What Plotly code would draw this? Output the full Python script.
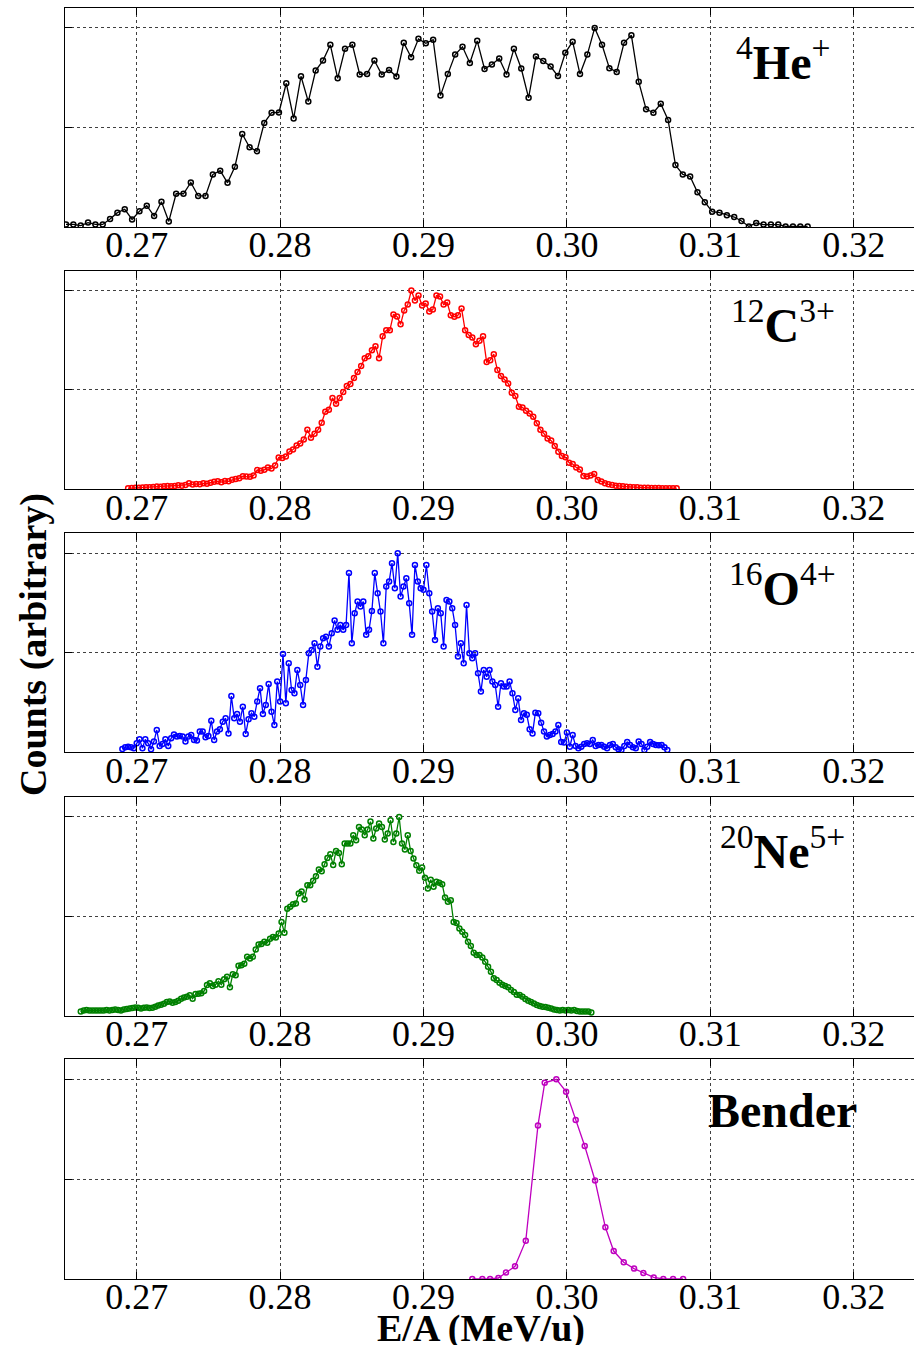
import plotly.graph_objects as go

# ---------------- data (normalised counts vs E/A in MeV/u) ----------------
he_start, he_step = 0.26507, 0.000512
he_counts = [0.013, 0.013, 0.007, 0.022, 0.013, 0.013, 0.04, 0.072, 0.089, 0.038,
             0.079, 0.107, 0.055, 0.127, 0.028, 0.167, 0.167, 0.224, 0.156, 0.156,
             0.264, 0.283, 0.222, 0.303, 0.467, 0.4, 0.38, 0.523, 0.574, 0.575,
             0.722, 0.545, 0.757, 0.63, 0.786, 0.836, 0.915, 0.747, 0.895, 0.916,
             0.766, 0.769, 0.836, 0.766, 0.789, 0.756, 0.925, 0.853, 0.945, 0.923,
             0.941, 0.66, 0.768, 0.866, 0.905, 0.824, 0.935, 0.794, 0.816, 0.846,
             0.766, 0.895, 0.796, 0.649, 0.856, 0.834, 0.806, 0.758, 0.875, 0.931,
             0.768, 0.866, 1.0, 0.915, 0.798, 0.778, 0.925, 0.963, 0.729, 0.592,
             0.574, 0.619, 0.538, 0.311, 0.264, 0.254, 0.174, 0.124, 0.077, 0.072,
             0.059, 0.05, 0.03, 0.003, 0.02, 0.012, 0.012, 0.012, 0.003, 0.003,
             0.003, 0.003]

c_start, c_step = 0.2694, 0.00025
c_counts = [0.005, 0.006, 0.008, 0.008, 0.009, 0.010, 0.010, 0.012, 0.014, 0.013,
            0.015, 0.016, 0.015, 0.017, 0.02, 0.018, 0.022, 0.03, 0.024, 0.027,
            0.025, 0.03, 0.028, 0.033, 0.038, 0.04, 0.036, 0.042, 0.04, 0.048,
            0.052, 0.055, 0.066, 0.064, 0.063, 0.07, 0.097, 0.093, 0.098, 0.11,
            0.105, 0.12, 0.16, 0.158, 0.165, 0.19, 0.2, 0.22, 0.23, 0.25,
            0.30, 0.26, 0.28, 0.30, 0.335, 0.39, 0.40, 0.46, 0.43, 0.46,
            0.49, 0.52, 0.53, 0.56, 0.59, 0.62, 0.66, 0.67, 0.70, 0.72,
            0.66, 0.77, 0.80, 0.80, 0.88, 0.87, 0.83, 0.90, 0.93, 1.0,
            0.95, 0.975, 0.925, 0.935, 0.895, 0.905, 0.975, 0.97, 0.93, 0.94,
            0.876, 0.868, 0.876, 0.91, 0.80, 0.776, 0.764, 0.73, 0.747, 0.77,
            0.64, 0.65, 0.68, 0.6, 0.57, 0.553, 0.533, 0.486, 0.469, 0.415,
            0.412, 0.395, 0.382, 0.365, 0.332, 0.30, 0.28, 0.256, 0.245, 0.218,
            0.189, 0.168, 0.161, 0.134, 0.127, 0.11, 0.1, 0.067, 0.064, 0.07,
            0.077, 0.047, 0.039, 0.03, 0.025, 0.022, 0.018, 0.017, 0.015, 0.013,
            0.012, 0.01, 0.01, 0.008, 0.008, 0.008, 0.007, 0.007, 0.006, 0.005,
            0.005, 0.005, 0.005, 0.005]

o_start, o_step = 0.2690, 0.0002
o_counts = [0.017, 0.025, 0.028, 0.025, 0.02, 0.045, 0.065, 0.02, 0.065, 0.045,
            0.015, 0.054, 0.112, 0.032, 0.042, 0.065, 0.032, 0.07, 0.09, 0.079,
            0.082, 0.079, 0.054, 0.079, 0.087, 0.062, 0.059, 0.104, 0.104, 0.075,
            0.082, 0.159, 0.062, 0.104, 0.116, 0.154, 0.171, 0.095, 0.283, 0.171,
            0.193, 0.154, 0.229, 0.092, 0.166, 0.196, 0.179, 0.255, 0.322, 0.193,
            0.238, 0.343, 0.204, 0.137, 0.355, 0.255, 0.494, 0.246, 0.447, 0.313,
            0.296, 0.414, 0.338, 0.238, 0.363, 0.497, 0.514, 0.548, 0.43, 0.531,
            0.573, 0.581, 0.531, 0.598, 0.662, 0.615, 0.64, 0.615, 0.64, 0.9,
            0.548, 0.698, 0.757, 0.732, 0.757, 0.59, 0.615, 0.71, 0.9, 0.799,
            0.707, 0.548, 0.833, 0.858, 0.95, 0.824, 1.0, 0.782, 0.833, 0.874,
            0.749, 0.59, 0.941, 0.858, 0.824, 0.816, 0.941, 0.799, 0.707, 0.564,
            0.724, 0.698, 0.531, 0.765, 0.757, 0.724, 0.64, 0.481, 0.548, 0.447,
            0.74, 0.497, 0.472, 0.497, 0.397, 0.305, 0.414, 0.38, 0.414, 0.355,
            0.338, 0.229, 0.347, 0.33, 0.33, 0.355, 0.296, 0.213, 0.271, 0.162,
            0.196, 0.188, 0.116, 0.095, 0.199, 0.196, 0.149, 0.104, 0.079, 0.087,
            0.092, 0.104, 0.137, 0.052, 0.049, 0.099, 0.028, 0.087, 0.032, 0.02,
            0.028, 0.042, 0.045, 0.042, 0.062, 0.032, 0.037, 0.037, 0.028, 0.02,
            0.037, 0.042, 0.025, 0.015, 0.012, 0.032, 0.052, 0.037, 0.025, 0.02,
            0.054, 0.042, 0.012, 0.028, 0.052, 0.042, 0.037, 0.035, 0.037, 0.025,
            0.012]

ne_start, ne_step = 0.2661, 0.0002
ne_counts = [0.022, 0.027, 0.03, 0.027, 0.027, 0.028, 0.027, 0.028, 0.027, 0.03,
             0.028, 0.03, 0.032, 0.03, 0.028, 0.033, 0.035, 0.037, 0.04, 0.043,
             0.042, 0.038, 0.042, 0.043, 0.04, 0.042, 0.047, 0.053, 0.057, 0.062,
             0.07, 0.073, 0.067, 0.07, 0.077, 0.087, 0.093, 0.097, 0.104, 0.087,
             0.11, 0.112, 0.114, 0.125, 0.155, 0.164, 0.15, 0.157, 0.174, 0.157,
             0.184, 0.197, 0.144, 0.21, 0.204, 0.252, 0.255, 0.262, 0.297, 0.289,
             0.297, 0.334, 0.359, 0.361, 0.372, 0.367, 0.387, 0.396, 0.394, 0.414,
             0.472, 0.417, 0.538, 0.548, 0.561, 0.564, 0.614, 0.624, 0.584, 0.656,
             0.656, 0.678, 0.701, 0.735, 0.726, 0.761, 0.793, 0.811, 0.758, 0.828,
             0.818, 0.761, 0.865, 0.865, 0.865, 0.907, 0.881, 0.948, 0.935, 0.907,
             0.935, 0.975, 0.89, 0.94, 0.965, 0.948, 0.885, 0.915, 0.982, 0.873,
             0.915, 0.998, 0.865, 0.835, 0.907, 0.828, 0.79, 0.756, 0.728, 0.745,
             0.694, 0.639, 0.684, 0.648, 0.673, 0.668, 0.661, 0.594, 0.573, 0.581,
             0.472, 0.467, 0.439, 0.422, 0.406, 0.372, 0.351, 0.317, 0.306, 0.306,
             0.294, 0.272, 0.247, 0.222, 0.189, 0.18, 0.167, 0.157, 0.15, 0.144,
             0.13, 0.12, 0.107, 0.105, 0.097, 0.085, 0.077, 0.07, 0.063, 0.055,
             0.05, 0.047, 0.045, 0.042, 0.038, 0.033, 0.03, 0.028, 0.03, 0.028,
             0.03, 0.027, 0.03, 0.025, 0.023, 0.023, 0.022, 0.022, 0.018]

bender_energy = [0.2934, 0.2941,
                 0.29464, 0.29522, 0.29575, 0.29638, 0.29713, 0.29798, 0.29845,
                 0.29926, 0.29994, 0.30061, 0.30124, 0.30196, 0.30268, 0.30326,
                 0.30396, 0.30468, 0.30533, 0.30605, 0.30672,
                 0.3074, 0.3081]
bender_counts = [0, 0,
                 0, 0.005, 0.032, 0.064, 0.192, 0.769, 0.982,
                 1.0, 0.938, 0.796, 0.666, 0.493, 0.259, 0.14,
                 0.084, 0.052, 0.03, 0.008, 0,
                 0, 0]

tick_values = [0.27, 0.28, 0.29, 0.30, 0.31, 0.32]
tick_labels = ["0.27", "0.28", "0.29", "0.30", "0.31", "0.32"]
panel_labels = ["<sup>4</sup><b>He</b><sup>+</sup>",
                "<sup>12</sup><b>C</b><sup>3+</sup>",
                "<sup>16</sup><b>O</b><sup>4+</sup>",
                "<sup>20</sup><b>Ne</b><sup>5+</sup>",
                "<b>Bender</b>"]
colors = ["#000000", "#ff0000", "#0000ff", "#008000", "#bf00bf"]


def grid(start, step, n):
    return [start + step * i for i in range(n)]


series = [
    (grid(he_start, he_step, len(he_counts)), he_counts),
    (grid(c_start, c_step, len(c_counts)), c_counts),
    (grid(o_start, o_step, len(o_counts)), o_counts),
    (grid(ne_start, ne_step, len(ne_counts)), ne_counts),
    (bender_energy, bender_counts),
]

# ---------------- figure ----------------
W, H = 914, 1345
ML, MR, MT, MB = 65, 0, 8, 66
plot_h = H - MT - MB
panel_px = [(8, 227), (270.7, 489.3), (533.3, 752.3), (796.7, 1016), (1059.3, 1279)]
FONT = "Liberation Serif"

fig = go.Figure()
for k, ((xs, ys), col) in enumerate(zip(series, colors), start=1):
    sfx = "" if k == 1 else str(k)
    fig.add_trace(go.Scatter(
        x=xs, y=ys, mode="lines+markers",
        xaxis="x" + sfx, yaxis="y" + sfx,
        line=dict(color=col, width=1.3),
        marker=dict(symbol="circle-open", size=5, color=col, line=dict(width=1.5, color=col)),
        showlegend=False, hoverinfo="skip"))

layout = dict(width=W, height=H, margin=dict(l=ML, r=MR, t=MT, b=MB),
              paper_bgcolor="white", plot_bgcolor="white", showlegend=False)
annotations = []
for k, (top, bot) in enumerate(panel_px, start=1):
    sfx = "" if k == 1 else str(k)
    d0 = (H - MB - bot) / plot_h
    d1 = (H - MB - top) / plot_h
    layout["xaxis" + sfx] = dict(
        domain=[0, 1], range=[0.265, 0.3242], anchor="y" + sfx,
        tickmode="array", tickvals=tick_values, ticktext=tick_labels,
        ticks="inside", ticklen=7, tickwidth=1, tickcolor="black",
        ticklabelstandoff=-14,
        showline=True, linecolor="black", linewidth=1.3, mirror="ticks",
        showgrid=True, gridcolor="rgba(0,0,0,0.75)", gridwidth=1, griddash="dot",
        zeroline=False, tickfont=dict(family=FONT, size=36, color="black"))
    layout["yaxis" + sfx] = dict(
        domain=[max(d0, 0), min(d1, 1)], range=[0, 1.1], anchor="x" + sfx,
        tickmode="array", tickvals=[0, 0.5, 1.0], showticklabels=False,
        ticks="inside", ticklen=7, tickwidth=1, tickcolor="black",
        showline=True, linecolor="black", linewidth=1.3, mirror=False,
        showgrid=True, gridcolor="rgba(0,0,0,0.75)", gridwidth=1, griddash="dot",
        zeroline=False)
    annotations.append(dict(
        text=panel_labels[k - 1], xref="paper", yref="y" + sfx + " domain",
        x=0.8457, y=0.765, xanchor="center", yanchor="middle", showarrow=False,
        font=dict(family=FONT, size=48, color="black")))

annotations.append(dict(
    text="<b>E/A (MeV/u)</b>", xref="paper", yref="paper",
    x=0.49, y=-0.0205, xanchor="center", yanchor="top", showarrow=False,
    font=dict(family=FONT, size=38, color="black")))
annotations.append(dict(
    text="<b>Counts (arbitrary)</b>", xref="paper", yref="paper",
    x=(33 - ML) / (W - ML - MR), y=(H - MB - 645) / plot_h, xanchor="center", yanchor="middle",
    textangle=-90, showarrow=False,
    font=dict(family=FONT, size=38, color="black")))
layout["annotations"] = annotations
fig.update_layout(**layout)

fig.write_html("out.html")
